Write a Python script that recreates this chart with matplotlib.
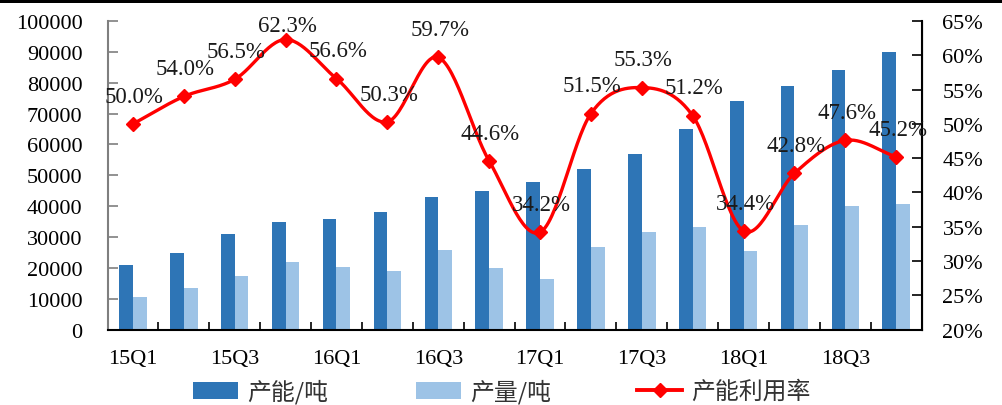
import numpy as np
import matplotlib
matplotlib.use("Agg")
import matplotlib.pyplot as plt
from matplotlib.patches import Rectangle, Patch
from matplotlib.lines import Line2D
from matplotlib.ticker import FuncFormatter, MultipleLocator

quarters = ["15Q1", "15Q2", "15Q3", "15Q4", "16Q1", "16Q2", "16Q3", "16Q4",
            "17Q1", "17Q2", "17Q3", "17Q4", "18Q1", "18Q2", "18Q3", "18Q4"]
capacity = [21000, 25000, 31000, 35000, 36000, 38000, 43000, 45000,
            48000, 52000, 57000, 65000, 74000, 79000, 84000, 90000]
output = [10500, 13500, 17500, 21800, 20400, 19100, 25700, 20100,
          16400, 26800, 31500, 33300, 25500, 33800, 40000, 40700]
utilization = [50.0, 54.0, 56.5, 62.3, 56.6, 50.3, 59.7, 44.6,
               34.2, 51.5, 55.3, 51.2, 34.4, 42.8, 47.6, 45.2]

DARK = "#2E75B6"
LIGHT = "#9DC3E6"
RED = "#FF0000"
SERIF = ["Liberation Serif", "DejaVu Serif"]
CJK = ["Noto Sans CJK SC", "DejaVu Sans"]


def smooth(xs, ys, n=30):
    """Catmull-Rom curve through the given points."""
    xs = np.asarray(xs, float)
    ys = np.asarray(ys, float)
    px = np.concatenate([[2 * xs[0] - xs[1]], xs, [2 * xs[-1] - xs[-2]]])
    py = np.concatenate([[2 * ys[0] - ys[1]], ys, [2 * ys[-1] - ys[-2]]])
    ox, oy = [], []
    t = np.linspace(0, 1, n, endpoint=False)
    for i in range(1, len(px) - 2):
        for p, out in ((px, ox), (py, oy)):
            p0, p1, p2, p3 = p[i - 1], p[i], p[i + 1], p[i + 2]
            out.extend(0.5 * ((2 * p1) + (-p0 + p2) * t
                              + (2 * p0 - 5 * p1 + 4 * p2 - p3) * t ** 2
                              + (-p0 + 3 * p1 - 3 * p2 + p3) * t ** 3))
    ox.append(xs[-1])
    oy.append(ys[-1])
    return np.array(ox), np.array(oy)


fig = plt.figure(figsize=(10.02, 4.06), dpi=100)
ax = fig.add_axes([0.1073, 0.1855, 0.8125, 0.7603])
ax2 = ax.twinx()

x = np.arange(len(quarters))
w = 0.27
ax.bar(x - w / 2, capacity, width=w, color=DARK, zorder=2)
ax.bar(x + w / 2, output, width=w, color=LIGHT, zorder=2)

ax.set_xlim(-0.5, len(quarters) - 0.5)
ax.set_ylim(0, 100000)
ax.yaxis.set_major_locator(MultipleLocator(10000))
ax.set_xticks(x[::2])
ax.set_xticklabels(quarters[::2])
ax.set_xticks(np.arange(-0.5, len(quarters)), minor=True)
ax.tick_params(axis="x", which="major", length=0, pad=14)
ax.tick_params(axis="x", which="minor", direction="in", length=6, width=1.2, color="black")
ax.tick_params(axis="y", direction="in", length=7, width=1.2, color="#7f7f7f", pad=18)
for lab in ax.get_xticklabels() + ax.get_yticklabels():
    lab.set_fontfamily(SERIF)
    lab.set_fontsize(16)

ax.spines["top"].set_visible(False)
ax.spines["left"].set_color("#7f7f7f")
ax.spines["left"].set_linewidth(1.5)
ax.spines["bottom"].set_color("black")
ax.spines["bottom"].set_linewidth(1.5)
ax.spines["bottom"].set_zorder(3)

sx, sy = smooth(x, utilization)
ax2.plot(sx, sy, color=RED, lw=2.4, zorder=3)
ax2.plot(x, utilization, ls="none", marker="D", ms=7.5, color=RED, zorder=4)
ax2.set_ylim(20, 65)
ax2.yaxis.set_major_locator(MultipleLocator(5))
ax2.yaxis.set_major_formatter(FuncFormatter(lambda v, _: f"{v:.0f}%"))
ax2.tick_params(axis="y", direction="in", length=7, width=1.2, color="black", pad=15)
for lab in ax2.get_yticklabels():
    lab.set_fontfamily(SERIF)
    lab.set_fontsize(16)
ax2.spines["top"].set_visible(False)
ax2.spines["left"].set_visible(False)
ax2.spines["bottom"].set_visible(False)
ax2.spines["right"].set_color("black")
ax2.spines["right"].set_linewidth(1.5)

for xi, v in zip(x, utilization):
    dy = 10 if v > 60 else 20
    ax2.annotate(f"{v:.1f}%", (xi, v), xytext=(1, dy), textcoords="offset points",
                 ha="center", va="center", fontsize=16.5, family=SERIF, color="#1a1a1a",
                 zorder=5, annotation_clip=False)

# legend entries placed individually along the bottom
entries = [
    (Patch(facecolor=DARK), "产能/吨", 193),
    (Patch(facecolor=LIGHT), "产量/吨", 416),
    (Line2D([], [], color=RED, lw=2.8, marker="D", ms=7), "产能利用率", 637),
]
for handle, label, px in entries:
    fig.legend([handle], [label], loc="center left",
               bbox_to_anchor=(px / 1002, 1 - 392.5 / 406),
               frameon=False, borderpad=0, borderaxespad=0,
               handlelength=1.9, handletextpad=0.36,
               prop={"family": CJK, "size": 17.2}, labelcolor="#333333")

fig.add_artist(Rectangle((0, 1 - 3.5 / 406), 1, 3.5 / 406, transform=fig.transFigure,
                         facecolor="black", edgecolor="none"))

fig.savefig("out.png", dpi=100)
